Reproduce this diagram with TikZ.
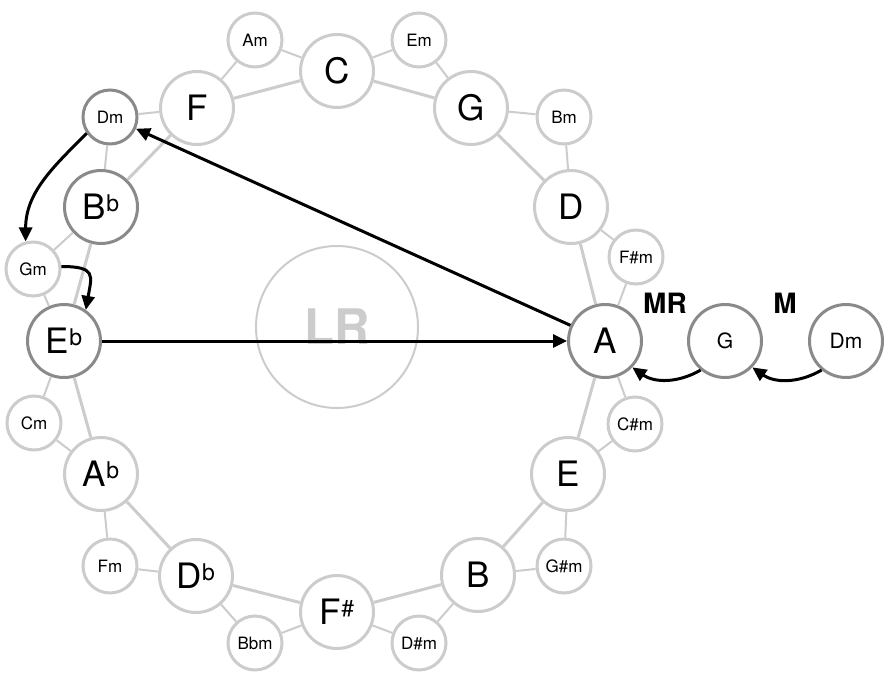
\documentclass[tikz,border=0pt]{standalone}
\usepackage{fontspec}
\setmainfont{TeX Gyre Heros}
\usepackage{tikz}
\usetikzlibrary{arrows.meta}
\definecolor{ringgray}{HTML}{CCCCCC}
\definecolor{ringdark}{HTML}{8A8A8A}
\newcommand{\acc}[1]{\smash{\raisebox{8.5pt}{\fontsize{23}{23}\selectfont #1}}}

\begin{document}
\begin{tikzpicture}[x=1pt,y=1pt,
    major/.style={circle,draw=ringgray,line width=3pt,fill=white,minimum size=73pt,inner sep=0pt,font=\fontsize{35}{35}\selectfont},
    minor/.style={circle,draw=ringgray,line width=3pt,fill=white,minimum size=54pt,inner sep=0pt,font=\fontsize{17}{17}\selectfont},
    active/.style={draw=ringdark},
    fifth/.style={draw=ringgray,line width=3pt},
    rel/.style={draw=ringgray,line width=2pt},
    move/.style={-{Triangle[length=14pt,width=13pt]},line width=3pt},
    tag/.style={font=\fontsize{28}{28}\selectfont\bfseries}]
    \useasboundingbox (0,0) rectangle (890,678);

    \node[circle,draw=ringgray,line width=2pt,minimum size=162pt,text=ringgray,
      font=\fontsize{49}{49}\selectfont\bfseries] (LR) at (337,351) {LR};

    \begin{scope}
      \node[major] (C) at (337,607) {C};
      \node[major] (G) at (471,570) {G};
      \node[major] (D) at (571,471) {D};
      \node[major,active] (A) at (605,337) {A};
      \node[major] (E) at (568,204) {E};
      \node[major] (B) at (478,103) {B};
      \node[major] (Fs) at (337,66) {F\acc{\#}};
      \node[major] (Db) at (196,102) {D\acc{b}};
      \node[major] (Ab) at (101,204) {A\acc{b}};
      \node[major,active] (Eb) at (64,337) {E\acc{b}};
      \node[major,active] (Bb) at (101,471) {B\acc{b}};
      \node[major] (F) at (197,570) {F};
    \end{scope}

    \begin{scope}
      \node[minor] (Am) at (255,638) {Am};
      \node[minor] (Em) at (419,638) {Em};
      \node[minor] (Bm) at (564,561) {Bm};
      \node[minor] (Fsm) at (636,421) {F\#m};
      \node[minor] (Csm) at (635,254) {C\#m};
      \node[minor] (Gsm) at (564,112) {G\#m};
      \node[minor] (Dsm) at (419,35) {D\#m};
      \node[minor] (Bbm) at (255,35) {Bbm};
      \node[minor] (Fm) at (110,112) {Fm};
      \node[minor] (Cm) at (34,255) {Cm};
      \node[minor] (Gm) at (33,409) {Gm};
      \node[minor,active] (Dm) at (110,561) {Dm};
    \end{scope}

    \draw[fifth] (C) -- (G) -- (D) -- (A) -- (E) -- (B) -- (Fs)
      -- (Db) -- (Ab) -- (Eb) -- (Bb) -- (F) -- (C);
    \draw[rel] (F) -- (Am) -- (C) -- (Em) -- (G) -- (Bm) -- (D)
      -- (Fsm) -- (A) -- (Csm) -- (E) -- (Gsm) -- (B) -- (Dsm) -- (Fs)
      -- (Bbm) -- (Db) -- (Fm) -- (Ab) -- (Cm) -- (Eb) -- (Gm) -- (Bb)
      -- (Dm) -- (F);

    \begin{scope}
      \node[major,active,font=\fontsize{21}{21}\selectfont] (Gr) at (725,337) {G};
      \node[major,active,font=\fontsize{21}{21}\selectfont] (Dmr) at (846,337) {Dm};
      \node[tag] (mr) at (665,375) {MR};
      \node[tag] (m) at (785,375) {M};
    \end{scope}

    \draw[move] (A) -- (Dm);
    \draw[move] (Eb) -- (A);
    \draw[move] (Dm.215) to[out=225,in=90] (Gm.105);
    \draw[move] (Gm.5) to[out=0,in=80,looseness=1.8] (Eb.55);
    \draw[move] (Gr.230) to[out=210,in=-35] (A.-44);
    \draw[move] (Dmr.230) to[out=210,in=-35] (Gr.-44);
\end{tikzpicture}
\end{document}
